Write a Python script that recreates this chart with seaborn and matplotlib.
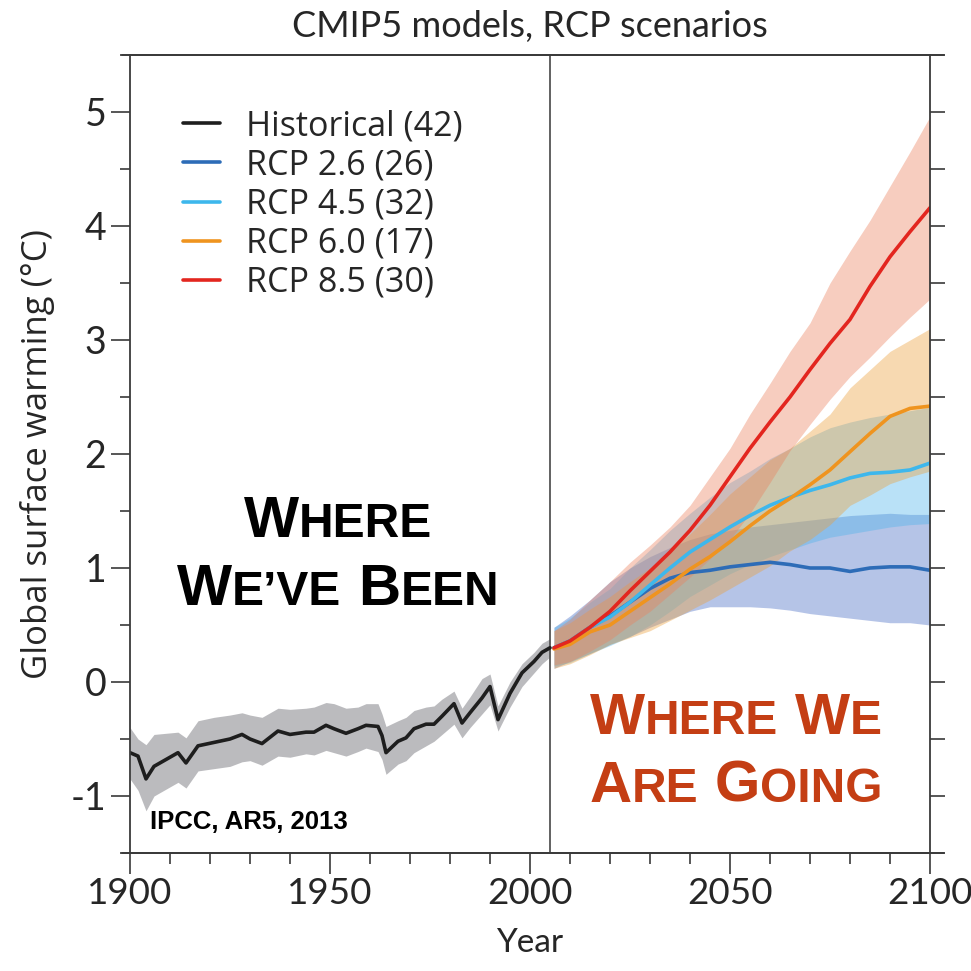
import pandas as pd
import seaborn as sns
import matplotlib.pyplot as plt
from matplotlib.ticker import MultipleLocator
from matplotlib.offsetbox import TextArea, HPacker, VPacker, AnnotationBbox

# historical multi-model mean and spread
hist_years = [1900, 1902, 1904, 1906, 1909, 1912, 1914, 1917, 1921, 1925, 1928, 1930, 1933, 1937,
              1940, 1944, 1946, 1949, 1951, 1954, 1957, 1959, 1962, 1963, 1964, 1967, 1969, 1971,
              1974, 1976, 1978, 1981, 1983, 1985, 1988, 1990, 1992, 1995, 1998, 2001, 2003, 2005]
hist_mean = [-0.62, -0.65, -0.85, -0.74, -0.68, -0.62, -0.71, -0.56, -0.53, -0.50, -0.46, -0.50, -0.54, -0.43,
             -0.46, -0.44, -0.44, -0.38, -0.41, -0.45, -0.41, -0.38, -0.39, -0.47, -0.62, -0.52, -0.49, -0.41,
             -0.37, -0.37, -0.30, -0.19, -0.36, -0.27, -0.14, -0.04, -0.33, -0.10, 0.08, 0.18, 0.26, 0.30]
hist_high = [-0.40, -0.50, -0.55, -0.46, -0.45, -0.44, -0.49, -0.34, -0.31, -0.29, -0.27, -0.29, -0.31, -0.23,
             -0.24, -0.23, -0.22, -0.18, -0.19, -0.23, -0.22, -0.19, -0.19, -0.28, -0.39, -0.34, -0.31, -0.25,
             -0.22, -0.21, -0.15, -0.08, -0.23, -0.13, 0.03, 0.07, -0.21, 0.00, 0.16, 0.26, 0.34, 0.38]
hist_low = [-0.85, -0.95, -1.13, -1.00, -0.94, -0.88, -0.93, -0.78, -0.76, -0.74, -0.70, -0.69, -0.73, -0.65,
            -0.66, -0.63, -0.64, -0.60, -0.62, -0.65, -0.61, -0.58, -0.61, -0.68, -0.81, -0.72, -0.69, -0.62,
            -0.56, -0.52, -0.46, -0.37, -0.49, -0.40, -0.28, -0.20, -0.43, -0.22, -0.04, 0.08, 0.16, 0.22]

# scenario projections
rcp_years = [2006, 2010, 2015, 2020, 2025, 2030, 2035, 2040, 2045, 2050,
             2055, 2060, 2065, 2070, 2075, 2080, 2085, 2090, 2095, 2100]
rcp26_mean = [0.30, 0.36, 0.48, 0.58, 0.70, 0.82, 0.91, 0.96, 0.98, 1.01, 1.03, 1.05, 1.03, 1.00, 1.00, 0.97, 1.00, 1.01, 1.01, 0.98]
rcp26_low = [0.12, 0.18, 0.25, 0.33, 0.40, 0.48, 0.55, 0.62, 0.66, 0.66, 0.66, 0.65, 0.63, 0.60, 0.58, 0.56, 0.54, 0.52, 0.52, 0.50]
rcp26_high = [0.48, 0.58, 0.72, 0.88, 1.00, 1.10, 1.18, 1.25, 1.30, 1.33, 1.36, 1.38, 1.40, 1.42, 1.44, 1.46, 1.47, 1.48, 1.47, 1.47]
rcp45_mean = [0.30, 0.36, 0.48, 0.57, 0.70, 0.85, 1.00, 1.14, 1.25, 1.36, 1.46, 1.55, 1.62, 1.68, 1.73, 1.79, 1.83, 1.84, 1.86, 1.92]
rcp45_low = [0.14, 0.17, 0.25, 0.32, 0.40, 0.50, 0.62, 0.75, 0.85, 0.95, 1.03, 1.10, 1.16, 1.22, 1.27, 1.30, 1.33, 1.36, 1.38, 1.39]
rcp45_high = [0.48, 0.56, 0.70, 0.82, 1.00, 1.16, 1.33, 1.48, 1.62, 1.75, 1.85, 1.96, 2.05, 2.15, 2.23, 2.28, 2.32, 2.35, 2.38, 2.41]
rcp60_mean = [0.29, 0.33, 0.44, 0.50, 0.62, 0.74, 0.86, 0.99, 1.10, 1.23, 1.37, 1.50, 1.61, 1.73, 1.86, 2.02, 2.18, 2.33, 2.40, 2.42]
rcp60_low = [0.12, 0.16, 0.24, 0.33, 0.39, 0.45, 0.54, 0.63, 0.72, 0.82, 0.92, 1.02, 1.15, 1.25, 1.38, 1.55, 1.64, 1.74, 1.80, 1.85]
rcp60_high = [0.45, 0.52, 0.64, 0.75, 0.88, 1.00, 1.15, 1.30, 1.47, 1.65, 1.80, 1.95, 2.05, 2.20, 2.35, 2.58, 2.74, 2.90, 3.00, 3.10]
rcp85_mean = [0.30, 0.36, 0.48, 0.62, 0.80, 0.97, 1.14, 1.33, 1.55, 1.80, 2.05, 2.28, 2.50, 2.74, 2.97, 3.18, 3.47, 3.73, 3.95, 4.16]
rcp85_low = [0.15, 0.18, 0.27, 0.37, 0.50, 0.62, 0.77, 0.92, 1.08, 1.25, 1.48, 1.75, 2.03, 2.26, 2.48, 2.68, 2.85, 3.03, 3.20, 3.36]
rcp85_high = [0.45, 0.55, 0.72, 0.88, 1.05, 1.20, 1.36, 1.55, 1.80, 2.05, 2.35, 2.62, 2.90, 3.15, 3.50, 3.78, 4.05, 4.35, 4.65, 4.96]

labels = ["Historical (42)", "RCP 2.6 (26)", "RCP 4.5 (32)", "RCP 6.0 (17)", "RCP 8.5 (30)"]
line_colors = ["#1e1e1e", "#2d6cb7", "#3db7ec", "#ef941f", "#e3261f"]
band_colors = ["#78787f", "#5073c8", "#50b4eb", "#eca03c", "#eb825f"]
band_alpha = [0.5, 0.42, 0.4, 0.4, 0.4]

TEXT = "#262626"
AXC = "#3a3a3a"


def build_frame() -> pd.DataFrame:
    parts = [pd.DataFrame({"year": hist_years, "warming": hist_mean, "scenario": labels[0]})]
    for lab, vals in zip(labels[1:], [rcp26_mean, rcp45_mean, rcp60_mean, rcp85_mean]):
        parts.append(pd.DataFrame({"year": rcp_years, "warming": vals, "scenario": lab}))
    return pd.concat(parts, ignore_index=True)


def small_caps(lines, big, small, color):
    # first letter of every word large, the rest as small capitals
    rows = []
    for line in lines:
        words = []
        for word in line.split(" "):
            first = TextArea(word[0], textprops=dict(fontsize=big, fontweight="bold",
                                                     family="Liberation Sans", color=color))
            rest = TextArea(word[1:], textprops=dict(fontsize=small, fontweight="bold",
                                                     family="Liberation Sans", color=color))
            words.append(HPacker(children=[first, rest], align="baseline", pad=0, sep=0))
        rows.append(HPacker(children=words, align="baseline", pad=0, sep=12))
    return VPacker(children=rows, align="center", pad=0, sep=10)


sns.set_theme(style="ticks")
plt.rcParams["font.family"] = ["Lato", "DejaVu Sans"]
plt.rcParams["axes.unicode_minus"] = False

fig = plt.figure(figsize=(9.71, 9.71), dpi=100)
ax = fig.add_axes([130 / 971, 118 / 971, 800 / 971, 798 / 971])

# spread bands
ax.fill_between(hist_years, hist_low, hist_high, color=band_colors[0], alpha=band_alpha[0], lw=0)
bands = [(rcp26_low, rcp26_high), (rcp45_low, rcp45_high), (rcp60_low, rcp60_high), (rcp85_low, rcp85_high)]
for (lo, hi), col, a in zip(bands, band_colors[1:], band_alpha[1:]):
    ax.fill_between(rcp_years, lo, hi, color=col, alpha=a, lw=0)

df = build_frame()
sns.lineplot(data=df, x="year", y="warming", hue="scenario", hue_order=labels,
             palette=dict(zip(labels, line_colors)), linewidth=2.6, ax=ax)

ax.axvline(2005, color="#555555", lw=1.3, zorder=1)

ax.set_xlim(1900, 2100)
ax.set_ylim(-1.5, 5.5)
ax.xaxis.set_major_locator(MultipleLocator(50))
ax.xaxis.set_minor_locator(MultipleLocator(10))
ax.yaxis.set_major_locator(MultipleLocator(1))
ax.yaxis.set_minor_locator(MultipleLocator(0.5))
ax.tick_params(axis="both", which="both", direction="out", color=AXC, width=1.2, labelcolor=TEXT)
ax.tick_params(axis="x", which="major", length=15, labelsize=26.5, pad=2)
ax.tick_params(axis="x", which="minor", length=8)
ax.tick_params(axis="y", which="major", length=14, labelsize=27, pad=3)
ax.tick_params(axis="y", which="minor", length=7)
for sp in ax.spines.values():
    sp.set_color(AXC)
    sp.set_linewidth(1.3)

ax2 = ax.twinx()
ax2.set_ylim(ax.get_ylim())
ax2.yaxis.set_major_locator(MultipleLocator(0.5))
ax2.tick_params(axis="y", direction="out", length=11, width=1.2, color=AXC, labelright=False)
for sp in ax2.spines.values():
    sp.set_visible(False)

# top and bottom frame lines run a bit past the side spines
for yy in (0, 1):
    ax.plot([-0.01, 1.017], [yy, yy], transform=ax.transAxes, clip_on=False, color=AXC, lw=1.3)

ax.set_title("CMIP5 models, RCP scenarios", fontsize=26, color=TEXT, pad=13)
ax.set_xlabel("Year", fontsize=24, color=TEXT, labelpad=13)
ax.set_ylabel("Global surface warming (°C)", fontsize=25, color=TEXT, labelpad=11,
              family=["Open Sans", "DejaVu Sans"])

handles, _ = ax.get_legend_handles_labels()
leg = ax.legend(handles, labels, loc="upper left", bbox_to_anchor=(0.066, 0.932), frameon=False,
                borderpad=0, borderaxespad=0, handlelength=1.1, handletextpad=0.75, labelspacing=0.15,
                prop={"family": ["Open Sans", "DejaVu Sans"], "size": 24.5})
for t in leg.get_texts():
    t.set_color(TEXT)

been = small_caps(["WHERE", "WE’VE BEEN"], 42, 34.5, "black")
ax.add_artist(AnnotationBbox(been, (1952, 1.105), xycoords="data", frameon=False, box_alignment=(0.5, 0.5)))
going = small_caps(["WHERE WE", "ARE GOING"], 42, 34.5, "#c43e14")
ax.add_artist(AnnotationBbox(going, (2051.5, -0.62), xycoords="data", frameon=False, box_alignment=(0.5, 0.5)))

ax.text(1905, -1.29, "IPCC, AR5, 2013", fontsize=18.5, fontweight="bold", family="Liberation Sans",
        color="black", va="baseline")

fig.savefig("out.png", dpi=100)
